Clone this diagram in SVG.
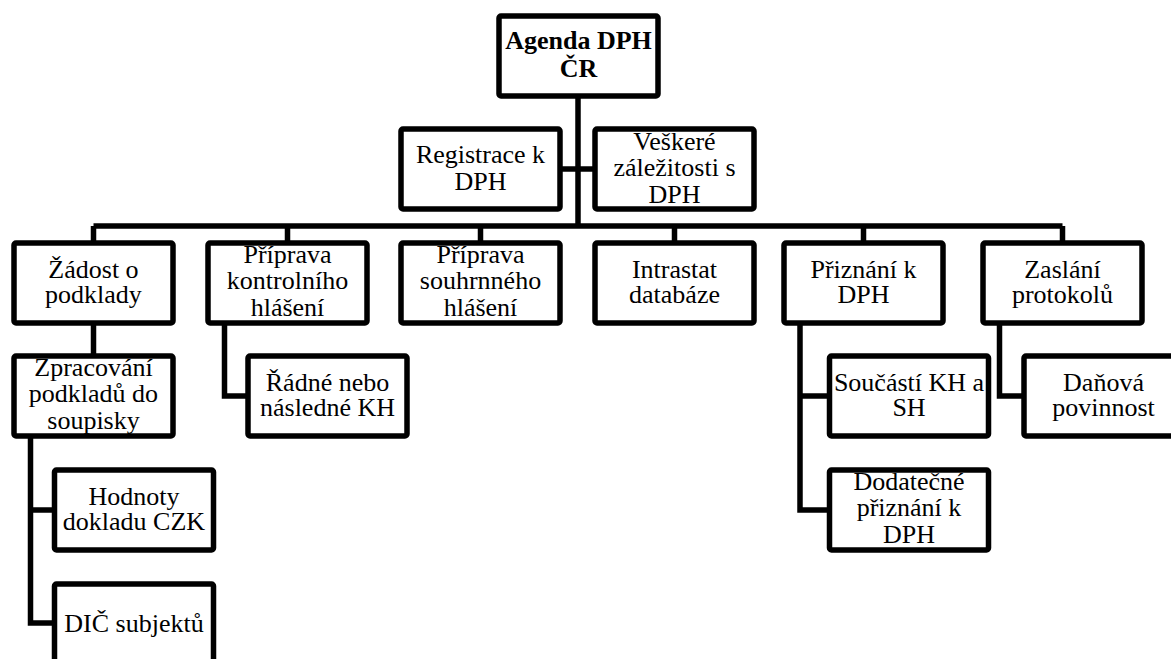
<svg xmlns="http://www.w3.org/2000/svg" width="1171" height="659" viewBox="0 0 1171 659">
<style>
.box{fill:#fff;stroke:#000;stroke-width:5.5}
.c{fill:none;stroke:#000;stroke-width:5.5;stroke-linejoin:miter}
.t{font-family:'Liberation Serif','Times New Roman',serif;font-size:26px;fill:#000;text-anchor:middle}
.b{font-weight:bold}
</style>
<rect width="1171" height="659" fill="#fff"/>
<g id="connectors">
<path class="c" d="M578,96 V226"/>
<path class="c" d="M560,169 H595"/>
<path class="c" d="M93.5,226 H1062.5"/>
<path class="c" d="M93.5,226 V243 M287.5,226 V243 M480.5,226 V243 M674.5,226 V243 M863.5,226 V243 M1062.5,226 V243"/>
<path class="c" d="M93.5,323 V356"/>
<path class="c" d="M30.5,436 V623 H54.5 M30.5,510 H54.5"/>
<path class="c" d="M224.5,323 V396 H248"/>
<path class="c" d="M800,323 V510 H829.5 M800,396 H829.5"/>
<path class="c" d="M999.5,323 V396 H1024"/>
</g>
<g id="root"><rect class="box" x="499" y="16" width="159" height="80" rx="2"/><text class="t b"><tspan x="578.5" y="48.5">Agenda DPH</tspan><tspan x="578.5" y="77">ČR</tspan></text></g>
<g id="registrace"><rect class="box" x="401" y="129" width="159" height="80" rx="2"/><text class="t"><tspan x="480.5" y="163">Registrace k</tspan><tspan x="480.5" y="190">DPH</tspan></text></g>
<g id="veskere"><rect class="box" x="595" y="129" width="159" height="80" rx="2"/><text class="t"><tspan x="674.5" y="150">Veškeré</tspan><tspan x="674.5" y="176">záležitosti s</tspan><tspan x="674.5" y="203">DPH</tspan></text></g>
<g id="zadost"><rect class="box" x="14" y="243" width="159" height="80" rx="2"/><text class="t"><tspan x="93.5" y="278">Žádost o</tspan><tspan x="93.5" y="303">podklady</tspan></text></g>
<g id="kontrolni"><rect class="box" x="208" y="243" width="159" height="80" rx="2"/><text class="t"><tspan x="287.5" y="263">Příprava</tspan><tspan x="287.5" y="289">kontrolního</tspan><tspan x="287.5" y="316">hlášení</tspan></text></g>
<g id="souhrnne"><rect class="box" x="401" y="243" width="159" height="80" rx="2"/><text class="t"><tspan x="480.5" y="263">Příprava</tspan><tspan x="480.5" y="289">souhrnného</tspan><tspan x="480.5" y="316">hlášení</tspan></text></g>
<g id="intrastat"><rect class="box" x="595" y="243" width="159" height="80" rx="2"/><text class="t"><tspan x="674.5" y="278">Intrastat</tspan><tspan x="674.5" y="303">databáze</tspan></text></g>
<g id="priznani"><rect class="box" x="784" y="243" width="159" height="80" rx="2"/><text class="t"><tspan x="863.5" y="278">Přiznání k</tspan><tspan x="863.5" y="303">DPH</tspan></text></g>
<g id="zaslani"><rect class="box" x="983" y="243" width="159" height="80" rx="2"/><text class="t"><tspan x="1062.5" y="278">Zaslání</tspan><tspan x="1062.5" y="303">protokolů</tspan></text></g>
<g id="zpracovani"><rect class="box" x="14" y="356" width="159" height="80" rx="2"/><text class="t"><tspan x="93.5" y="376">Zpracování</tspan><tspan x="93.5" y="402">podkladů do</tspan><tspan x="93.5" y="429">soupisky</tspan></text></g>
<g id="radne"><rect class="box" x="248" y="356" width="159" height="80" rx="2"/><text class="t"><tspan x="327.5" y="391">Řádné nebo</tspan><tspan x="327.5" y="416">následné KH</tspan></text></g>
<g id="hodnoty"><rect class="box" x="54.5" y="470" width="159" height="80" rx="2"/><text class="t"><tspan x="134" y="505">Hodnoty</tspan><tspan x="134" y="530">dokladu CZK</tspan></text></g>
<g id="dic"><rect class="box" x="54.5" y="584" width="159" height="80" rx="2"/><text class="t" x="134" y="632">DIČ subjektů</text></g>
<g id="soucasti"><rect class="box" x="829.5" y="356" width="159" height="80" rx="2"/><text class="t"><tspan x="909" y="391">Součástí KH a</tspan><tspan x="909" y="416">SH</tspan></text></g>
<g id="dodatecne"><rect class="box" x="829.5" y="470" width="159" height="80" rx="2"/><text class="t"><tspan x="909" y="490">Dodatečné</tspan><tspan x="909" y="516">přiznání k</tspan><tspan x="909" y="543">DPH</tspan></text></g>
<g id="danova"><rect class="box" x="1024" y="356" width="159" height="80" rx="2"/><text class="t"><tspan x="1103.5" y="391">Daňová</tspan><tspan x="1103.5" y="416">povinnost</tspan></text></g>
</svg>
